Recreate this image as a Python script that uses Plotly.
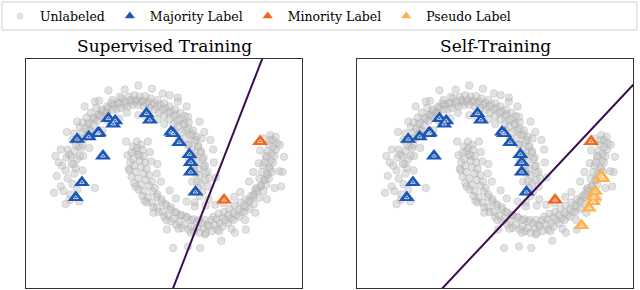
import plotly.graph_objects as go

# ---------------- data (two-moons) ----------------
upper_moon = [
    (-1.02,0.02),(-1.12,-0.08),(-0.95,-0.05),(-1.18,0.05),(-0.98,-0.18),
    (-1.05,0.12),(-0.92,0.08),(-1.10,0.18),(-0.99,-0.25),(-0.88,-0.12),
    (-0.96,0.20),(-1.04,0.28),(-0.90,0.15),(-1.08,-0.14),
    (-0.97,0.30),(-0.88,0.26),(-1.02,0.38),(-0.93,0.20),
    (-0.92,0.36),(-0.86,0.42),(-1.00,0.32),(-0.84,0.30),
    (-0.90,0.44),(-0.82,0.40),(-0.95,0.50),(-0.86,0.52),
    (-0.86,0.50),(-0.78,0.52),(-0.92,0.58),(-0.80,0.44),
    (-0.80,0.60),(-0.74,0.56),(-0.84,0.66),(-0.70,0.62),
    (-0.76,0.64),(-0.68,0.62),(-0.80,0.72),(-0.72,0.70),
    (-0.70,0.72),(-0.64,0.68),(-0.74,0.78),(-0.62,0.76),
    (-0.64,0.78),(-0.58,0.74),(-0.68,0.84),(-0.56,0.82),
    (-0.56,0.82),(-0.52,0.88),(-0.60,0.90),(-0.48,0.80),
    (-0.50,0.86),(-0.44,0.92),(-0.54,0.80),(-0.46,0.84),
    (-0.42,0.90),(-0.38,0.96),(-0.44,0.84),(-0.36,0.88),
    (-0.34,0.94),(-0.30,0.88),(-0.36,1.00),(-0.28,0.96),
    (-0.26,0.96),(-0.22,1.02),(-0.24,0.90),(-0.18,0.94),
    (-0.17,0.98),(-0.12,1.04),(-0.14,0.92),(-0.08,0.98),
    (-0.09,1.00),(-0.04,1.06),(-0.06,0.94),(-0.02,0.98),
    (0.00,1.00),(0.04,1.04),(0.02,0.94),(0.06,0.98),
    (0.09,0.99),(0.12,1.05),(0.10,0.92),(0.14,0.96),
    (0.17,0.98),(0.20,1.02),(0.18,0.90),(0.22,0.94),
    (0.26,0.96),(0.30,1.00),(0.26,0.88),(0.30,0.92),
    (0.34,0.94),(0.38,0.88),(0.32,0.84),(0.40,0.96),
    (0.42,0.90),(0.46,0.84),(0.40,0.80),(0.48,0.92),
    (0.50,0.86),(0.54,0.80),(0.48,0.76),(0.56,0.88),
    (0.57,0.82),(0.60,0.74),(0.54,0.70),(0.64,0.84),
    (0.64,0.76),(0.68,0.70),(0.60,0.66),(0.70,0.80),
    (0.70,0.70),(0.72,0.62),(0.66,0.60),(0.76,0.72),
    (0.76,0.64),(0.78,0.56),(0.72,0.52),(0.82,0.62),
    (0.82,0.57),(0.84,0.48),(0.76,0.44),(0.88,0.54),
    (0.86,0.50),(0.80,0.38),(0.90,0.42),(0.84,0.30),
    (0.90,0.42),(0.86,0.34),(0.94,0.36),(0.80,0.26),
    (0.94,0.34),(0.88,0.24),(0.98,0.28),(0.84,0.18),
    (0.96,0.26),(0.90,0.14),(1.00,0.18),(0.86,0.08),
    (0.98,0.17),(0.92,0.06),(1.04,0.10),(0.88,-0.02),
    (1.00,0.09),(0.94,-0.04),(1.06,0.02),(0.90,-0.10),
    (1.00,0.00),(0.96,-0.14),(1.04,-0.08),(0.92,-0.20),
    (0.60,0.98),(0.75,0.79),(0.95,0.52),(-0.25,1.04),(-0.62,-0.10),
    # outer / inner fringe
    (-1.15,0.22),(-1.12,0.38),(-1.03,0.60),(-0.88,0.73),(-0.77,0.92),(-0.56,0.99),
    (-0.42,1.12),(-0.18,1.13),(0.02,1.18),(0.22,1.14),(0.38,1.08),(0.60,1.03),
    (0.73,0.92),(0.92,0.73),(0.99,0.60),(1.12,0.38),(1.13,0.22),(1.16,0.03),
    (-0.80,0.12),(-0.79,0.30),(-0.70,0.40),(-0.66,0.55),(-0.51,0.62),(-0.43,0.74),
    (-0.26,0.77),(-0.15,0.84),(0.02,0.81),(0.12,0.80),(0.30,0.76),(0.40,0.70),
    (0.55,0.62),(0.62,0.51),(0.74,0.44),(0.76,0.26),(0.84,0.12),(0.81,-0.02),
    (-1.05,-0.30),(-0.85,-0.27),(-1.22,-0.16),(0.85,-0.28),(1.05,-0.24),
    (-1.20,0.30),(-0.62,0.98),(0.48,1.06),(1.08,0.50),
]
lower_moon = [
    (0.00,0.48),(-0.06,0.42),(0.06,0.44),(-0.02,0.36),
    (0.00,0.40),(-0.08,0.34),(0.08,0.38),(0.04,0.30),
    (0.02,0.32),(-0.06,0.26),(0.10,0.30),(-0.10,0.22),
    (0.04,0.24),(-0.04,0.18),(0.12,0.22),(-0.12,0.14),
    (0.06,0.16),(-0.02,0.10),(0.14,0.14),(-0.08,0.04),
    (0.10,0.08),(0.02,0.02),(0.18,0.06),(-0.04,-0.04),
    (0.13,0.00),(0.06,-0.06),(0.22,-0.02),(0.02,-0.12),
    (0.18,-0.07),(0.10,-0.14),(0.26,-0.10),(0.08,-0.20),
    (0.23,-0.14),(0.16,-0.22),(0.30,-0.18),(0.14,-0.28),
    (0.29,-0.21),(0.22,-0.28),(0.36,-0.24),(0.24,-0.34),
    (0.36,-0.27),(0.30,-0.34),(0.42,-0.30),(0.32,-0.40),
    (0.43,-0.32),(0.38,-0.40),(0.50,-0.34),(0.40,-0.46),
    (0.50,-0.37),(0.46,-0.44),(0.56,-0.40),(0.50,-0.52),
    (0.58,-0.41),(0.54,-0.48),(0.64,-0.44),(0.58,-0.56),
    (0.66,-0.44),(0.62,-0.52),(0.72,-0.46),(0.66,-0.60),
    (0.74,-0.47),(0.70,-0.56),(0.80,-0.50),(0.76,-0.62),
    (0.83,-0.49),(0.80,-0.58),(0.88,-0.52),(0.84,-0.64),
    (0.91,-0.50),(0.88,-0.60),(0.96,-0.54),(0.92,-0.66),
    (1.00,-0.50),(0.98,-0.60),(1.04,-0.56),(1.00,-0.68),
    (1.09,-0.50),(1.06,-0.58),(1.12,-0.46),(1.10,-0.64),
    (1.17,-0.49),(1.14,-0.56),(1.20,-0.42),(1.18,-0.62),
    (1.26,-0.47),(1.22,-0.54),(1.28,-0.40),(1.26,-0.58),
    (1.34,-0.44),(1.30,-0.50),(1.36,-0.36),(1.34,-0.54),
    (1.42,-0.41),(1.38,-0.48),(1.44,-0.32),(1.42,-0.50),
    (1.50,-0.37),(1.46,-0.44),(1.52,-0.28),(1.50,-0.46),
    (1.57,-0.32),(1.54,-0.40),(1.60,-0.24),(1.58,-0.40),
    (1.64,-0.27),(1.60,-0.34),(1.68,-0.20),(1.66,-0.36),
    (1.71,-0.21),(1.66,-0.26),(1.74,-0.12),(1.72,-0.30),
    (1.77,-0.14),(1.72,-0.18),(1.82,-0.08),(1.80,-0.22),
    (1.82,-0.07),(1.76,-0.10),(1.88,0.00),(1.86,-0.14),
    (1.87,0.00),(1.80,0.02),(1.92,0.06),(1.90,-0.06),
    (1.91,0.08),(1.84,0.10),(1.96,0.14),(1.94,0.02),
    (1.94,0.16),(1.86,0.18),(2.00,0.22),(1.98,0.10),
    (1.97,0.24),(1.90,0.28),(2.02,0.30),(1.88,0.22),
    (1.98,0.33),(1.92,0.36),(2.04,0.38),(1.90,0.30),
    (2.00,0.41),(1.94,0.44),(2.06,0.46),(1.96,0.50),
    (2.00,0.50),(1.96,0.56),(2.04,0.54),
    (0.53,-0.85),(0.75,-0.83),(0.93,-0.85),(1.24,-0.76),(1.60,-0.62),
    (2.14,0.10),(2.12,-0.08),
    # outer / inner fringe
    (-0.16,0.48),(-0.14,0.31),(-0.11,0.12),(-0.02,-0.08),(0.11,-0.26),(0.24,-0.41),
    (0.43,-0.50),(0.61,-0.61),(0.79,-0.66),(1.01,-0.66),(1.21,-0.64),(1.39,-0.61),
    (1.59,-0.50),(1.74,-0.41),(1.91,-0.24),(2.02,-0.10),(2.09,0.11),(2.16,0.29),
    (0.16,0.48),(0.19,0.35),(0.21,0.23),(0.29,0.08),(0.35,-0.02),(0.48,-0.13),
    (0.57,-0.23),(0.73,-0.27),(0.85,-0.33),(1.01,-0.32),(1.15,-0.31),(1.27,-0.29),
    (1.43,-0.21),(1.52,-0.15),(1.65,-0.02),(1.71,0.10),(1.79,0.21),(1.81,0.37),
    (2.10,0.44),(1.86,0.52),(0.44,-0.62),(1.44,-0.66),(0.30,0.20),
]
majority_x = [-0.88,-0.71,-0.58,-0.56,-0.42,-0.32,-0.35,-0.50,-0.81,-0.90,
              0.14,0.19,0.50,0.53,0.62,0.77,0.79,0.79,0.86]
majority_y = [0.51,0.54,0.58,0.59,0.77,0.74,0.70,0.30,-0.03,-0.22,
              0.83,0.75,0.60,0.58,0.47,0.32,0.22,0.10,-0.15]
minority_x = [1.81, 1.28]
minority_y = [0.48, -0.25]
pseudo_x = [1.96, 1.98, 1.87, 1.85, 1.84, 1.78, 1.67]
pseudo_y = [0.05, 0.02, -0.14, -0.21, -0.27, -0.35, -0.57]
# decision boundaries (two points each)
sup_boundary_x = [1.88, 0.49]
sup_boundary_y = [1.60, -1.44]
self_boundary_x = [2.55, -0.45]
self_boundary_y = [1.30, -1.42]
titles = ["Supervised Training", "Self-Training"]
legend_names = ["Unlabeled", "Majority Label", "Minority Label", "Pseudo Label"]

unl_x = [p[0] for p in upper_moon + lower_moon]
unl_y = [p[1] for p in upper_moon + lower_moon]

# ---------------- styling ----------------
BLUE = "#1d57b4"
ORANGE = "#f2661c"
PSEUDO = "#fdb24e"
LINE = "#3a0d4f"
GRAY = "rgba(190,190,190,0.45)"
FONT = "DejaVu Serif"
XR = [-1.632, 2.426]
YR = [-1.35, 1.5125]

fig = go.Figure()

def add_panel(xa, ya, boundary_x, boundary_y, with_pseudo):
    fig.add_trace(go.Scatter(x=unl_x, y=unl_y, mode="markers", xaxis=xa, yaxis=ya,
        showlegend=False,
        marker=dict(symbol="circle", size=7.5, color=GRAY,
                    line=dict(width=0.8, color="rgba(165,165,165,0.4)"))))
    def tri(x, y, color):
        fig.add_trace(go.Scatter(x=x, y=y, mode="markers", xaxis=xa, yaxis=ya,
            showlegend=False,
            marker=dict(symbol="triangle-up", size=14, color=color, line=dict(width=0))))
        fig.add_trace(go.Scatter(x=x, y=y, mode="markers", xaxis=xa, yaxis=ya,
            showlegend=False, hoverinfo="skip",
            marker=dict(symbol="triangle-up-open", size=4, color="white",
                        line=dict(width=0.7, color="rgba(255,255,255,0.85)"))))
    tri(majority_x, majority_y, BLUE)
    tri(minority_x, minority_y, ORANGE)
    if with_pseudo:
        tri(pseudo_x, pseudo_y, PSEUDO)
    fig.add_trace(go.Scatter(x=boundary_x, y=boundary_y, mode="lines", xaxis=xa, yaxis=ya,
        showlegend=False, line=dict(color=LINE, width=2)))

add_panel("x", "y", sup_boundary_x, sup_boundary_y, False)
add_panel("x2", "y2", self_boundary_x, self_boundary_y, True)

# legend entries (smaller symbols, as in the reference legend)
leg_style = [("circle", 7, GRAY), ("triangle-up", 9, BLUE),
             ("triangle-up", 9, ORANGE), ("triangle-up", 9, PSEUDO)]
for name, (sym, sz, col) in zip(legend_names, leg_style):
    fig.add_trace(go.Scatter(x=[None], y=[None], mode="markers", name=name,
                             marker=dict(symbol=sym, size=sz, color=col)))

ax = dict(range=XR, showticklabels=False, ticks="", showgrid=False, zeroline=False,
          showline=True, mirror=True, linecolor="#333333", linewidth=1.2)
ay = dict(range=YR, showticklabels=False, ticks="", showgrid=False, zeroline=False,
          showline=True, mirror=True, linecolor="#333333", linewidth=1.2)
ydom = [2/290, 231/290]
fig.update_layout(
    width=640, height=290,
    margin=dict(l=0, r=0, t=0, b=0, autoexpand=False),
    paper_bgcolor="white", plot_bgcolor="white",
    xaxis=dict(ax, domain=[26/640, 302/640], anchor="y"),
    yaxis=dict(ay, domain=ydom, anchor="x"),
    xaxis2=dict(ax, domain=[357/640, 633/640], anchor="y2"),
    yaxis2=dict(ay, domain=ydom, anchor="x2"),
    showlegend=True,
    legend=dict(orientation="h", x=0.0, y=0.995, xanchor="left", yanchor="top",
                font=dict(family=FONT, size=12.5, color="black"),
                bgcolor="rgba(0,0,0,0)", traceorder="normal", itemsizing="trace"),
    font=dict(family=FONT),
    shapes=[dict(type="rect", xref="paper", yref="paper", x0=2/640, x1=637/640,
                 y0=(290-30)/290, y1=(290-2)/290, line=dict(color="#d0d0d0", width=1),
                 fillcolor="white", layer="below")],
)
for i, t in enumerate(titles):
    dom = [26/640, 302/640] if i == 0 else [357/640, 633/640]
    fig.add_annotation(text=t, xref="paper", yref="paper", x=(dom[0]+dom[1])/2,
                       y=(290-46)/290, xanchor="center", yanchor="middle", showarrow=False,
                       font=dict(family=FONT, size=17, color="black"))
fig.write_html("out.html", config={"displayModeBar": False},
               post_script="document.body.style.margin='0';")
